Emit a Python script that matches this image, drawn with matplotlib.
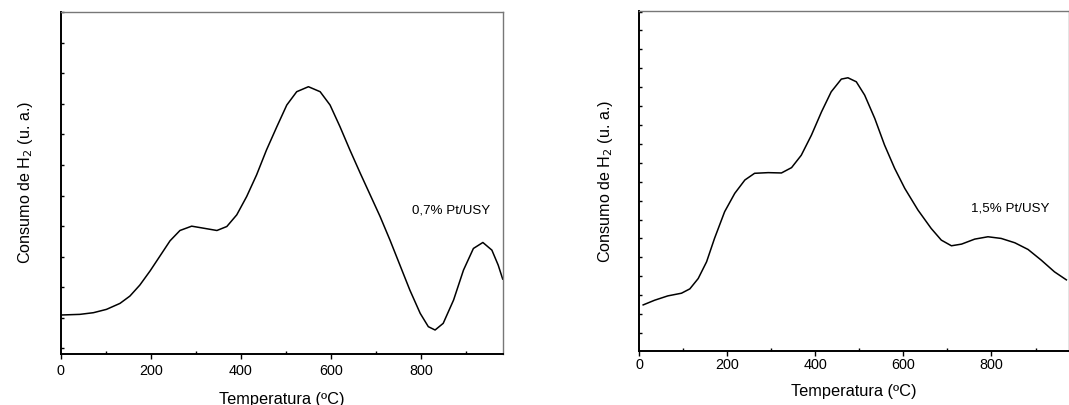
import matplotlib
matplotlib.use("Agg")
import matplotlib.pyplot as plt
from matplotlib.ticker import FixedLocator, MultipleLocator
import numpy as np

plt.rcParams['font.family'] = ['Liberation Sans', 'DejaVu Sans']

# ---- data ----
temp_a = [0, 43, 73, 102, 132, 154, 176, 199, 221, 243, 265, 291, 317, 347, 369,
          391, 413, 435, 457, 480, 502, 524, 550, 576, 598, 620, 642, 665, 687,
          709, 731, 753, 775, 798, 816, 831, 849, 872, 894, 916, 937, 957, 971, 981]
h2_a = [11.8, 12.0, 12.5, 13.5, 15.3, 17.5, 20.8, 25.1, 29.6, 34.1, 37.2, 38.5,
        37.9, 37.2, 38.4, 41.9, 47.4, 53.9, 61.4, 68.4, 74.9, 78.9, 80.4, 78.9,
        74.9, 68.4, 61.4, 54.4, 47.9, 41.4, 34.3, 26.8, 19.3, 12.3, 8.3, 7.3,
        9.3, 16.3, 25.3, 31.8, 33.6, 31.3, 26.8, 22.6]

temp_b = [9, 35, 65, 96, 115, 134, 153, 171, 194, 217, 240, 262, 293, 323, 346,
          368, 391, 414, 436, 459, 474, 493, 512, 535, 557, 580, 603, 633, 663,
          686, 709, 732, 762, 792, 822, 853, 883, 913, 943, 970]
h2_b = [13.8, 15.2, 16.5, 17.3, 18.6, 21.7, 26.7, 33.7, 41.7, 47.2, 51.2, 53.2,
        53.4, 53.3, 54.9, 58.6, 64.6, 71.6, 77.6, 81.4, 81.8, 80.6, 76.6, 69.6,
        61.7, 54.7, 48.7, 42.2, 36.7, 33.2, 31.5, 32.0, 33.5, 34.2, 33.7, 32.4,
        30.4, 27.2, 23.7, 21.3]

label_a = "0,7% Pt/USY"
label_b = "1,5% Pt/USY"
xticks = [0, 200, 400, 600, 800]
xlabel = "Temperatura (ºC)"
ylabel = "Consumo de H$_2$ (u. a.)"

W, H = 1069, 405
fig = plt.figure(figsize=(W / 100, H / 100), dpi=100)

def px_axes(x0, y0, x1, y1):
    return fig.add_axes([x0 / W, 1 - y1 / H, (x1 - x0) / W, (y1 - y0) / H])

ax1 = px_axes(60.5, 11.5, 502.7, 354.3)
ax2 = px_axes(639.2, 11.3, 1069, 351)

def style(ax, xmax, ymax, ytick0, ytickstep, tickpad, xlpad, ylpad):
    ax.set_xlim(0, xmax)
    ax.set_ylim(0, ymax)
    for s in ['left', 'bottom']:
        ax.spines[s].set_linewidth(1.4)
        ax.spines[s].set_color('black')
    for s in ['top', 'right']:
        ax.spines[s].set_linewidth(1.0)
        ax.spines[s].set_color('#777777')
    ax.xaxis.set_major_locator(FixedLocator(xticks))
    ax.xaxis.set_minor_locator(MultipleLocator(100))
    ax.tick_params(axis='x', which='major', direction='out', length=3.5, width=1,
                   labelsize=10.4, pad=tickpad)
    ax.tick_params(axis='x', which='minor', direction='in', length=2, width=1)
    ax.yaxis.set_major_locator(FixedLocator([]))
    ax.yaxis.set_minor_locator(FixedLocator(np.arange(ytick0, ymax, ytickstep)))
    ax.tick_params(axis='y', which='minor', direction='in', length=2, width=1)
    ax.tick_params(top=False, right=False, which='both')
    ax.set_xlabel(xlabel, fontsize=11.8, labelpad=xlpad)
    ax.set_ylabel(ylabel, fontsize=11.6, labelpad=ylpad)

style(ax1, 981, 103.0, 1.8, 9.18, 3.5, 10, 15)
style(ax2, 976, 101.7, 5.4, 5.66, 1.5, 9, 14)

ax1.plot(temp_a, h2_a, color='black', lw=1.1)
ax2.plot(temp_b, h2_b, color='black', lw=1.1)

ax1.text(779, 43.1, label_a, fontsize=9.6, va='center', ha='left')
ax2.text(754, 42.7, label_b, fontsize=9.6, va='center', ha='left')

fig.savefig("out.png", dpi=100)
